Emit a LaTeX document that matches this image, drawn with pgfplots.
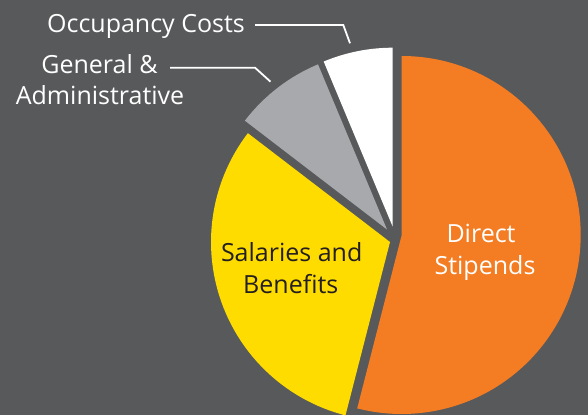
\documentclass[border=0pt]{standalone}
\usepackage{pgfplots}
\pgfplotsset{compat=1.18}
\usepackage{pgfplotstable}
\usepackage{fontspec}
\setmainfont{Open Sans}
\definecolor{bg}{HTML}{58595B}
\definecolor{cOrange}{HTML}{F47C22}
\definecolor{cYellow}{HTML}{FFDC00}
\definecolor{cGray}{HTML}{A7A9AC}
\definecolor{cWhite}{HTML}{FFFFFF}
\definecolor{cText}{HTML}{231F20}

% value (percent), slice apex after explosion (cx, cy)
\pgfplotstableread{
label value cx cy
Direct 54.0 401.7 180.0
Salaries 31.4 390.0 173.0
GA 8.3 387.0 185.5
Occupancy 6.3 392.7 188.3
}\slices

\newcommand\getslice[2]{%
  \pgfplotstablegetelem{#1}{value}\of\slices\expandafter\let\csname v#2\endcsname\pgfplotsretval
  \pgfplotstablegetelem{#1}{cx}\of\slices\expandafter\let\csname x#2\endcsname\pgfplotsretval
  \pgfplotstablegetelem{#1}{cy}\of\slices\expandafter\let\csname y#2\endcsname\pgfplotsretval}
\getslice{0}{A}\getslice{1}{B}\getslice{2}{C}\getslice{3}{D}
\pgfmathsetmacro\sA{90}
\pgfmathsetmacro\eA{\sA-3.6*\vA}
\pgfmathsetmacro\sB{\eA}
\pgfmathsetmacro\eB{\sB-3.6*\vB}
\pgfmathsetmacro\sC{\eB}
\pgfmathsetmacro\eC{\sC-3.6*\vC}
\pgfmathsetmacro\sD{\eC}
\pgfmathsetmacro\eD{\sD-3.6*\vD}
\def\R{179}
\def\lblfont{\fontsize{25}{32}\selectfont}

\begin{document}
\begin{tikzpicture}
\begin{axis}[
  x=1pt, y=1pt, disabledatascaling,
  xmin=0, xmax=588, ymin=0, ymax=415,
  hide axis, clip=true,
]
\fill[bg] (axis cs:0,0) rectangle (axis cs:588,415);
\fill[cOrange] (axis cs:\xA,\yA) -- ++(\sA:\R pt) arc[start angle=\sA, end angle=\eA, radius=\R pt] -- cycle;
\fill[cYellow] (axis cs:\xB,\yB) -- ++(\sB:\R pt) arc[start angle=\sB, end angle=\eB, radius=\R pt] -- cycle;
\fill[cGray] (axis cs:\xC,\yC) -- ++(\sC:\R pt) arc[start angle=\sC, end angle=\eC, radius=\R pt] -- cycle;
\fill[cWhite] (axis cs:\xD,\yD) -- ++(\sD:\R pt) arc[start angle=\sD, end angle=\eD, radius=\R pt] -- cycle;
% leader lines
\draw[white, line width=1.8pt] (axis cs:255,390) -- (axis cs:343.3,390) -- (axis cs:350,371.7);
\draw[white, line width=1.8pt] (axis cs:170,347.3) -- (axis cs:255,347.3) -- (axis cs:270.5,333.3);
% labels
\node[anchor=base, white, font=\lblfont] at (axis cs:146,382) {Occupancy Costs};
\node[anchor=base, white, font=\lblfont] at (axis cs:99.5,341) {General \&};
\node[anchor=base, white, font=\lblfont] at (axis cs:100,310) {Administrative};
\node[anchor=base, white, font=\lblfont] at (axis cs:481,172) {Direct};
\node[anchor=base, white, font=\lblfont] at (axis cs:485,140) {Stipends};
\node[anchor=base, cText, font=\lblfont] at (axis cs:291.7,153.3) {Salaries and};
\node[anchor=base, cText, font=\lblfont] at (axis cs:290.8,121.7) {Benefits};
\end{axis}
\pgfresetboundingbox
\path (current axis.south west) rectangle (current axis.north east);
\end{tikzpicture}
\end{document}
